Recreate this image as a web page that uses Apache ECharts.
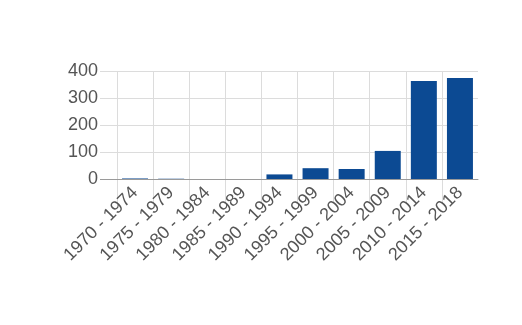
<!DOCTYPE html>
<html><head><meta charset="utf-8">
<script src="https://cdn.jsdelivr.net/npm/echarts@6/dist/echarts.min.js"></script>
<style>html,body{margin:0;padding:0;background:#fff}#c{width:522px;height:325px}</style>
</head><body><div id="c"></div>
<script>
var categories = ["1970 - 1974","1975 - 1979","1980 - 1984","1985 - 1989","1990 - 1994","1995 - 1999","2000 - 2004","2005 - 2009","2010 - 2014","2015 - 2018"];
var values = [2, 1, 0, 0, 17, 40, 37, 104, 363, 374];
var yTicks = [0, 100, 200, 300, 400];

var font = 'Liberation Sans, Arial, sans-serif';
var plotLeft = 117, plotRight = 44, plotWidth = 522 - plotLeft - plotRight;
var band = plotWidth / categories.length;
var chart = echarts.init(document.getElementById('c'));
chart.setOption({
  animation: false,
  grid: [
    {left: plotLeft, right: plotRight, top: 71, bottom: 146},
    {left: plotLeft, right: plotRight + band, top: 71, height: 132},
    {left: 100, right: plotRight, top: 71, bottom: 146}
  ],
  xAxis: [{
    type: 'category', data: categories, gridIndex: 0,
    axisLine: {lineStyle: {color: '#9a9a9a', width: 1}},
    axisTick: {show: false},
    splitLine: {show: false},
    axisLabel: {rotate: 45, fontSize: 18, color: '#555', fontFamily: font, margin: 11, interval: 0},
    z: 3
  }, {
    type: 'value', gridIndex: 1, min: 0, max: categories.length - 1, interval: 1,
    axisLine: {show: false}, axisTick: {show: false}, axisLabel: {show: false},
    splitLine: {show: true, lineStyle: {color: '#dcdcdc'}}
  }, {
    type: 'value', gridIndex: 2, min: 0, max: 1, show: false, splitLine: {show: false}
  }],
  yAxis: [{
    type: 'value', gridIndex: 0, min: yTicks[0], max: yTicks[yTicks.length-1], interval: 100,
    axisLine: {show: false},
    axisTick: {show: false},
    splitLine: {show: false},
    axisLabel: {fontSize: 18, color: '#555', fontFamily: font, margin: 19}
  }, {
    type: 'value', gridIndex: 1, min: 0, max: 1, show: false, splitLine: {show: false}
  }, {
    type: 'value', gridIndex: 2, min: yTicks[0], max: yTicks[yTicks.length-1], interval: 100,
    axisLine: {show: false}, axisTick: {show: false}, axisLabel: {show: false},
    splitLine: {show: true, lineStyle: {color: ['#9a9a9a', '#dcdcdc', '#dcdcdc', '#dcdcdc', '#dcdcdc']}}
  }],
  series: [{
    type: 'bar', data: values, barCategoryGap: '28%', xAxisIndex: 0, yAxisIndex: 0,
    itemStyle: {color: '#0c4a93'}
  }]
});
</script></body></html>
